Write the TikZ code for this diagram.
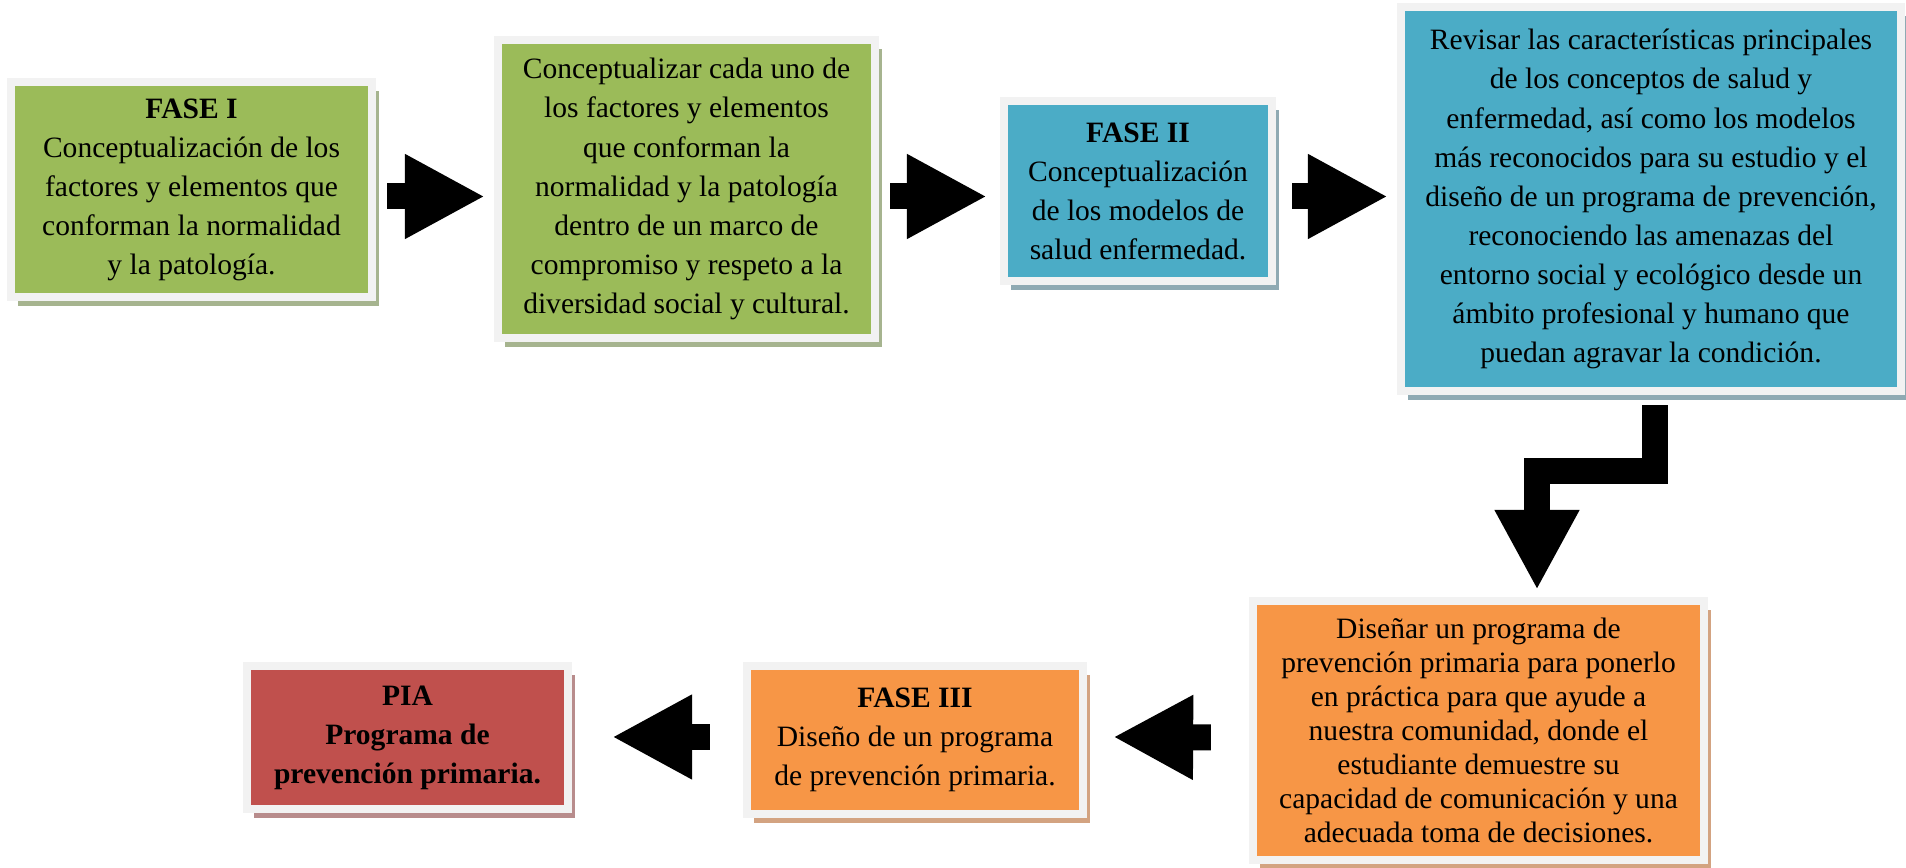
\documentclass[tikz,border=0pt]{standalone}
\usepackage{fontspec}
\setmainfont{Liberation Serif}
\usetikzlibrary{calc, arrows.meta, shadows}

\definecolor{verde}{HTML}{9BBB59}
\definecolor{azul}{HTML}{4BACC6}
\definecolor{naranja}{HTML}{F79646}
\definecolor{rojo}{HTML}{C0504D}
\definecolor{borde}{HTML}{F2F2F2}
\definecolor{sverde}{HTML}{A6B48F}
\definecolor{sazul}{HTML}{8FAAB3}
\definecolor{snaranja}{HTML}{D3A381}
\definecolor{srojo}{HTML}{B88C8C}

\tikzset{
    caja/.style={draw=borde, line width=0.08cm, align=center, inner sep=0pt,
        font=\fontsize{8.4}{11.1}\selectfont},
    sombra/.style={drop shadow={shadow xshift=0.07cm, shadow yshift=-0.09cm,
        fill=#1, opacity=1}},
    flecha/.style={line width=0.26cm, line join=miter,
        -{Triangle[length=0.8cm, width=0.79cm]}}
}

\begin{document}
\begin{tikzpicture}[x=0.01cm, y=-0.01cm]
        \fill[white] (0,0) rectangle (1906,868);
        \useasboundingbox (0,0) rectangle (1906,868);

        % First row
        \node[caja, fill=verde, sombra=sverde, minimum width=3.61cm, minimum height=2.15cm]
            (fase1) at (191.5,189.5) {\textbf{FASE I}\\Conceptualización de los\\factores y elementos que\\conforman la normalidad\\y la patología.};
        \node[caja, fill=verde, sombra=sverde, minimum width=3.77cm, minimum height=2.98cm]
            (paso1) at (686.5,189) {Conceptualizar cada uno de\\los factores y elementos\\que conforman la\\normalidad y la patología\\dentro de un marco de\\compromiso y respeto a la\\diversidad social y cultural.};
        \node[caja, fill=azul, sombra=sazul, minimum width=2.68cm, minimum height=1.80cm]
            (fase2) at (1138,191) {\textbf{FASE II}\\Conceptualización\\de los modelos de\\salud enfermedad.};
        \node[caja, fill=azul, sombra=sazul, minimum width=5.00cm, minimum height=3.84cm]
            (paso2) at (1651,199) {Revisar las características principales\\de los conceptos de salud y\\enfermedad, así como los modelos\\más reconocidos para su estudio y el\\diseño de un programa de prevención,\\reconociendo las amenazas del\\entorno social y ecológico desde un\\ámbito profesional y humano que\\puedan agravar la condición.};

        % Second row
        \node[caja, fill=naranja, sombra=snaranja, minimum width=4.51cm, minimum height=2.59cm, font=\fontsize{8.4}{9.7}\selectfont]
            (paso3) at (1478.5,730.5) {Diseñar un programa de\\prevención primaria para ponerlo\\en práctica para que ayude a\\nuestra comunidad, donde el\\estudiante demuestre su\\capacidad de comunicación y una\\adecuada toma de decisiones.};
        \node[caja, fill=naranja, sombra=snaranja, minimum width=3.36cm, minimum height=1.48cm]
            (fase3) at (915,740) {\textbf{FASE III}\\Diseño de un programa\\de prevención primaria.};
        \node[caja, fill=rojo, sombra=srojo, minimum width=3.21cm, minimum height=1.43cm, font=\fontsize{8.4}{11.1}\selectfont\bfseries]
            (pia) at (407.5,737.5) {PIA\\Programa de\\prevención primaria.};

        % Arrows
        \draw[flecha] ($(fase1.east)+(11,7)$) -- ($(paso1.west)+(-9,7.5)$);
        \draw[flecha] ($(paso1.east)+(11,7.5)$) -- ($(fase2.west)+(-13,5.5)$);
        \draw[flecha] ($(fase2.east)+(16,5.5)$) -- ($(paso2.west)+(-9,-2.5)$);
        \draw[flecha] ($(paso2.south)+(4,10)$) -- ++(0,66) -| ($(paso3.north)+(58.5,-7)$);
        \draw[flecha] ($(paso3.west)+(-38,7)$) -- ($(fase3.east)+(26,-3)$);
        \draw[flecha] ($(fase3.west)+(-33,-3)$) -- ($(pia.east)+(40,-0.5)$);
    \end{tikzpicture}
\end{document}
